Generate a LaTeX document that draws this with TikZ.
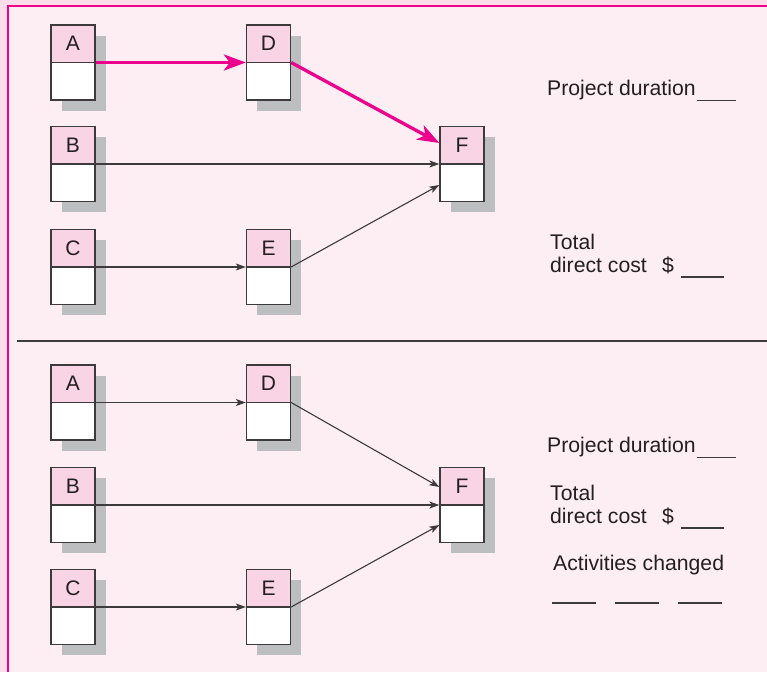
\documentclass[tikz,border=0pt]{standalone}
\usepackage{fontspec}
\setmainfont{Liberation Sans}
\usetikzlibrary{arrows.meta,shadows,calc}
\definecolor{bandc}{HTML}{FBDDE9}
\definecolor{bgc}{HTML}{FDEEF4}
\definecolor{headc}{HTML}{F9D4E4}
\definecolor{magc}{HTML}{EC008C}
\definecolor{shadc}{HTML}{BDBEC0}
\definecolor{linec}{HTML}{3C3A3B}
\definecolor{textc}{HTML}{231F20}
\begin{document}
\begin{tikzpicture}[x=1pt,y=-1pt,
  act/.style={draw=linec, line width=1.3pt, fill=white, minimum width=44pt, minimum height=75pt, inner sep=0pt,
    general shadow={fill=shadc, shadow xshift=10.5pt, shadow yshift=-10.5pt},
    path picture={\fill[headc] (path picture bounding box.north west) rectangle (path picture bounding box.east);
      \draw[linec, line width=1.3pt] (path picture bounding box.west) -- (path picture bounding box.east);}},
  letter/.style={font=\fontsize{21}{24}\selectfont, text=textc, inner sep=0pt},
  txt/.style={font=\fontsize{21.2}{24}\selectfont, text=textc, inner sep=0pt, anchor=base west},
  crit/.style={draw=magc, line width=3.3pt, -{Stealth[length=22pt,width=16pt,inset=6pt]}},
  norm/.style={draw=linec, line width=1.1pt, -{Stealth[length=10pt,width=7pt,inset=2.5pt]}},
  blank/.style={draw=linec, line width=1.2pt}]
\useasboundingbox (0,0) rectangle (767,672);
\fill[bandc] (0,0) rectangle (767,672);
\fill[bgc] (8,6) rectangle (767,672);
\draw[magc, line width=2.6pt] (8,672) -- (8,6) -- (767,6);
\draw[linec, line width=1.3pt] (17,341) -- (767,341);

% top network
\node[act] (A1) at (73,62.5) {};
\node[act] (D1) at (268.5,62.5) {};
\node[act] (B1) at (73,164) {};
\node[act] (F1) at (462,164) {};
\node[act] (C1) at (73,267) {};
\node[act] (E1) at (268.5,267) {};
\foreach \n/\l in {A1/A,D1/D,B1/B,F1/F,C1/C,E1/E}
  \node[letter] (\n t) at ($(\n.north)!0.5!(\n.center)$) {\l};
\draw[crit] (A1.east) -- (D1.west);
\draw[crit] (D1.east) -- ([yshift=21pt]F1.west);
\draw[norm] (B1.east) -- (F1.west);
\draw[norm] (C1.east) -- (E1.west);
\draw[norm] (E1.east) -- ([yshift=-21pt]F1.west);

% bottom network
\node[act] (A2) at (73,402.5) {};
\node[act] (D2) at (268.5,402.5) {};
\node[act] (B2) at (73,505) {};
\node[act] (F2) at (462,505) {};
\node[act] (C2) at (73,607) {};
\node[act] (E2) at (268.5,607) {};
\foreach \n/\l in {A2/A,D2/D,B2/B,F2/F,C2/C,E2/E}
  \node[letter] (\n t) at ($(\n.north)!0.5!(\n.center)$) {\l};
\draw[norm] (A2.east) -- (D2.west);
\draw[norm] (D2.east) -- ([yshift=18pt]F2.west);
\draw[norm] (B2.east) -- (F2.west);
\draw[norm] (C2.east) -- (E2.west);
\draw[norm] (E2.east) -- ([yshift=-20pt]F2.west);

% top texts
\node[txt] (pd1) at (547,95) {Project duration};
\draw[blank] (697,100.5) -- (736,100.5);
\node[txt] (tot1) at (550,249) {Total};
\node[txt] (dc1) at (550,272) {direct cost};
\node[txt] (dol1) at (662,272) {\$};
\draw[blank] (681,277) -- (724,277);

% bottom texts
\node[txt] (pd2) at (547,452) {Project duration};
\draw[blank] (697,457.5) -- (736,457.5);
\node[txt] (tot2) at (550,500) {Total};
\node[txt] (dc2) at (550,523) {direct cost};
\node[txt] (dol2) at (662,523) {\$};
\draw[blank] (681,528) -- (724,528);
\node[txt] (ac2) at (553,570) {Activities changed};
\draw[blank] (552,603) -- (596,603);
\draw[blank] (615,603) -- (659,603);
\draw[blank] (678,603) -- (722,603);
\end{tikzpicture}
\end{document}
